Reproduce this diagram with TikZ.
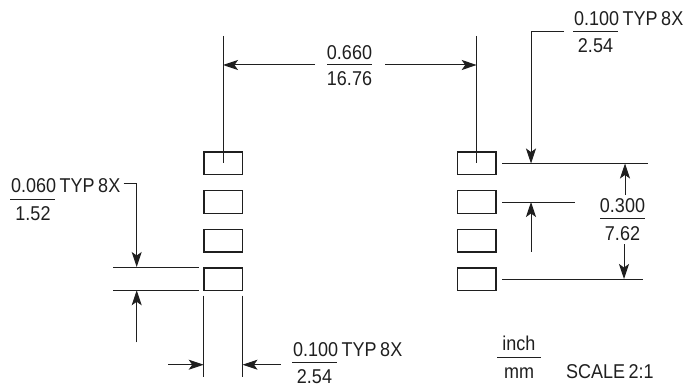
\documentclass[tikz,border=0pt]{standalone}
\usepackage{fontspec}
\setmainfont[FakeStretch=0.9, WordSpace=0.7]{Liberation Sans}
\usetikzlibrary{arrows.meta}
\definecolor{inkcol}{HTML}{1F1F1F}
\tikzset{
	pad/.style={draw=inkcol, line width=1.5pt, minimum width=38.5pt, minimum height=22.5pt, inner sep=0pt},
	dimline/.style={draw=inkcol, line width=1pt},
	dimarrow/.style={dimline, -{Stealth[length=15pt,width=10pt,inset=3.5pt]}},
	dimtext/.style={text=inkcol, inner sep=0pt, font=\fontsize{20}{22}\selectfont},
}
\begin{document}
\begin{tikzpicture}[x=1pt, y=-1pt]
\useasboundingbox (0,0) rectangle (683,385);

% pads
\foreach \i/\ypos in {1/163.5,2/202,3/240.5,4/279}
{
	\node[pad] (padL\i) at (223,\ypos) {};
	\node[pad] (padR\i) at (476.7,\ypos) {};
}

% center lines and 0.660
\coordinate (topL) at (223,36);
\coordinate (topR) at (476.7,36);
\coordinate (midL) at (223,65);
\coordinate (midR) at (476.7,65);
\coordinate (midLfree) at (315,65);
\coordinate (midRfree) at (385,65);
\draw[dimline] (topL) -- (padL1.center);
\draw[dimline] (topR) -- (padR1.center);
\draw[dimarrow] (midLfree) -- (midL);
\draw[dimarrow] (midRfree) -- (midR);
\node[dimtext, anchor=base] (wnum) at (349.5,59.3) {0.660};
\node[dimtext, anchor=base] (wden) at (349.5,86) {16.76};
\coordinate (wbarL) at (327,64.7);
\coordinate (wbarR) at (372,64.7);
\draw[dimline] (wbarL) -- (wbarR);

% right side lines
\coordinate (lineA) at (502,163.5);
\coordinate (lineAend) at (648,163.5);
\coordinate (lineB) at (502,202);
\coordinate (lineBend) at (574.5,202);
\coordinate (lineC) at (502,279);
\coordinate (lineCend) at (643,279);
\draw[dimline] (lineA) -- (lineAend);
\draw[dimline] (lineB) -- (lineBend);
\draw[dimline] (lineC) -- (lineCend);

% top right 0.100
\node[dimtext, anchor=base west] (tnum) at (574,26) {0.100 TYP 8X};
\node[dimtext, anchor=base] (tden) at (595.5,52.7) {2.54};
\coordinate (tbarL) at (573,32);
\coordinate (tbarR) at (618,32);
\draw[dimline] (tbarL) -- (tbarR);
\coordinate (tlead) at (564,32);
\coordinate (ttip) at (531,163.5);
\draw[dimarrow] (tlead) -| (ttip);
\coordinate (rfree) at (531,251.7);
\coordinate (rtip) at (531,202);
\draw[dimarrow] (rfree) -- (rtip);

% 0.300
\node[dimtext, anchor=base] (hnum) at (622.5,212) {0.300};
\node[dimtext, anchor=base] (hden) at (622.5,240) {7.62};
\coordinate (hbarL) at (600,218);
\coordinate (hbarR) at (645,218);
\draw[dimline] (hbarL) -- (hbarR);
\coordinate (hupfree) at (625,195);
\coordinate (huptip) at (625,163.5);
\coordinate (hdnfree) at (624,244);
\coordinate (hdntip) at (624,279);
\draw[dimarrow] (hupfree) -- (huptip);
\draw[dimarrow] (hdnfree) -- (hdntip);

% left 0.060
\node[dimtext, anchor=base west] (lnum) at (11,192.7) {0.060 TYP 8X};
\node[dimtext, anchor=base] (lden) at (33,220) {1.52};
\coordinate (lbarL) at (10,199);
\coordinate (lbarR) at (55,199);
\draw[dimline] (lbarL) -- (lbarR);
\coordinate (llead) at (123.5,184);
\coordinate (ltip) at (136.7,267);
\draw[dimarrow] (llead) -| (ltip);
\coordinate (lineD) at (113,267);
\coordinate (lineDend) at (199,267);
\coordinate (lineE) at (113,290.3);
\coordinate (lineEend) at (199,290.3);
\draw[dimline] (lineD) -- (lineDend);
\draw[dimline] (lineE) -- (lineEend);
\coordinate (lfree) at (136.7,342.3);
\coordinate (lup) at (136.7,290.3);
\draw[dimarrow] (lfree) -- (lup);

% bottom 0.100
\coordinate (extAtop) at (203.7,295.7);
\coordinate (extAbot) at (203.7,377);
\coordinate (extBtop) at (242.5,295.7);
\coordinate (extBbot) at (242.5,377);
\draw[dimline] (extAtop) -- (extAbot);
\draw[dimline] (extBtop) -- (extBbot);
\coordinate (bfreeL) at (168,364.7);
\coordinate (btipL) at (203.7,364.7);
\coordinate (bfreeR) at (280.7,364.7);
\coordinate (btipR) at (242.5,364.7);
\draw[dimarrow] (bfreeL) -- (btipL);
\draw[dimarrow] (bfreeR) -- (btipR);
\node[dimtext, anchor=base west] (bnum) at (293,356.7) {0.100 TYP 8X};
\node[dimtext, anchor=base] (bden) at (314.5,383) {2.54};
\coordinate (bbarL) at (292,362.7);
\coordinate (bbarR) at (336.7,362.7);
\draw[dimline] (bbarL) -- (bbarR);

% units and scale
\node[dimtext, anchor=base] (unum) at (519,350.7) {inch};
\node[dimtext, anchor=base] (uden) at (519,378.7) {mm};
\coordinate (ubarL) at (497,357);
\coordinate (ubarR) at (541,357);
\draw[dimline] (ubarL) -- (ubarR);
\node[dimtext, anchor=base west] (scale) at (566,378.7) {SCALE 2:1};
\end{tikzpicture}
\end{document}
